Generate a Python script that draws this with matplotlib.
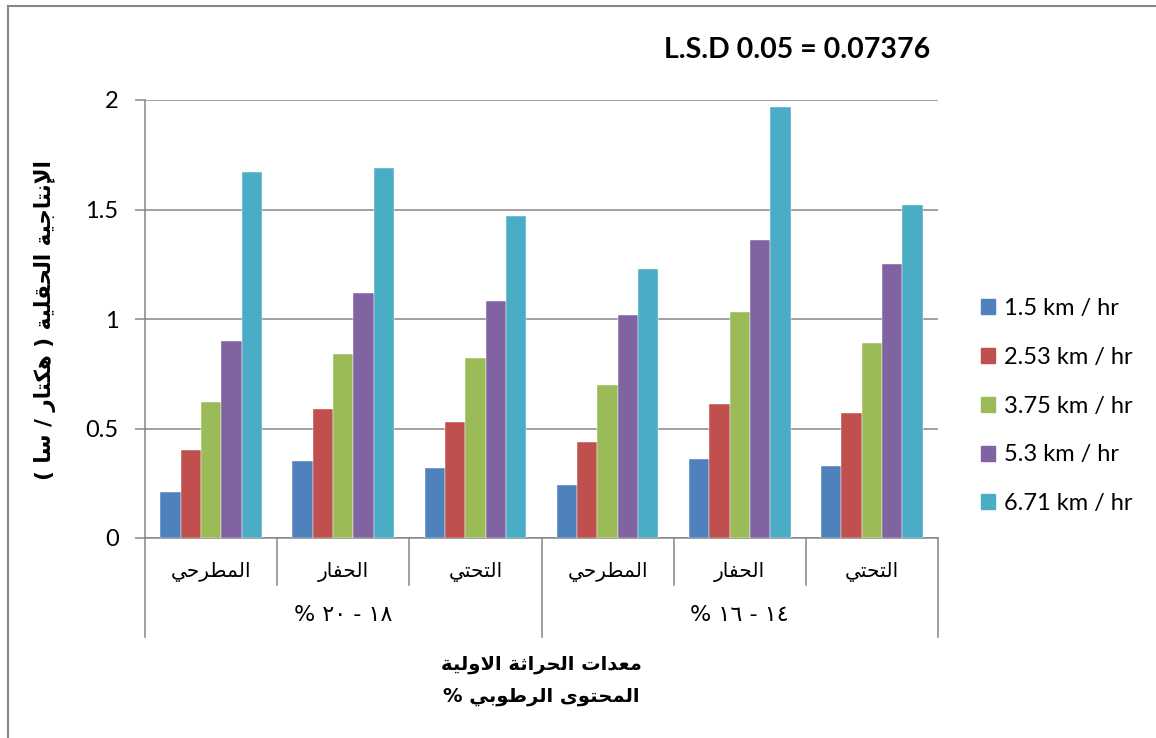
import matplotlib
matplotlib.use("Agg")
import matplotlib.pyplot as plt
from matplotlib.patches import Patch
from matplotlib.lines import Line2D

# data
groups = ["المطرحي", "الحفار", "التحتي", "المطرحي", "الحفار", "التحتي"]
moisture = ["١٨ - ٢٠ %", "١٤ - ١٦ %"]
speeds = ["1.5 km / hr", "2.53 km / hr", "3.75 km / hr", "5.3 km / hr", "6.71 km / hr"]
s_15 = [0.21, 0.35, 0.32, 0.24, 0.36, 0.33]
s_253 = [0.40, 0.59, 0.53, 0.44, 0.61, 0.57]
s_375 = [0.62, 0.84, 0.82, 0.70, 1.03, 0.89]
s_53 = [0.90, 1.12, 1.08, 1.02, 1.36, 1.25]
s_671 = [1.67, 1.69, 1.47, 1.23, 1.97, 1.52]
series = [s_15, s_253, s_375, s_53, s_671]
colors = ["#4F81BD", "#C0504D", "#9BBB59", "#8064A2", "#4BACC6"]
yticks = [0, 0.5, 1, 1.5, 2]
ytick_labels = ["0", "0.5", "1", "1.5", "2"]

title = "L.S.D 0.05 = 0.07376"
ylabel = "الإنتاجية الحقلية ( هكتار / سا )"
xlabel1 = "معدات الحراثة الاولية"
xlabel2 = "المحتوى الرطوبي %"

# matplotlib has no arabic shaping, so pick contextual forms by hand
# (isolated, final, initial, medial)
FORMS = {
    "ا": (0xFE8D, 0xFE8E, None, None), "أ": (0xFE83, 0xFE84, None, None),
    "إ": (0xFE87, 0xFE88, None, None), "ب": (0xFE8F, 0xFE90, 0xFE91, 0xFE92),
    "ة": (0xFE93, 0xFE94, None, None), "ت": (0xFE95, 0xFE96, 0xFE97, 0xFE98),
    "ث": (0xFE99, 0xFE9A, 0xFE9B, 0xFE9C), "ج": (0xFE9D, 0xFE9E, 0xFE9F, 0xFEA0),
    "ح": (0xFEA1, 0xFEA2, 0xFEA3, 0xFEA4), "د": (0xFEA9, 0xFEAA, None, None),
    "ر": (0xFEAD, 0xFEAE, None, None), "س": (0xFEB1, 0xFEB2, 0xFEB3, 0xFEB4),
    "ط": (0xFEC1, 0xFEC2, 0xFEC3, 0xFEC4), "ع": (0xFEC9, 0xFECA, 0xFECB, 0xFECC),
    "ف": (0xFED1, 0xFED2, 0xFED3, 0xFED4), "ق": (0xFED5, 0xFED6, 0xFED7, 0xFED8),
    "ك": (0xFED9, 0xFEDA, 0xFEDB, 0xFEDC), "ل": (0xFEDD, 0xFEDE, 0xFEDF, 0xFEE0),
    "م": (0xFEE1, 0xFEE2, 0xFEE3, 0xFEE4), "ن": (0xFEE5, 0xFEE6, 0xFEE7, 0xFEE8),
    "ه": (0xFEE9, 0xFEEA, 0xFEEB, 0xFEEC), "و": (0xFEED, 0xFEEE, None, None),
    "ى": (0xFEEF, 0xFEF0, None, None), "ي": (0xFEF1, 0xFEF2, 0xFEF3, 0xFEF4),
}
LAM_ALEF = {"ا": (0xFEFB, 0xFEFC, None, None), "أ": (0xFEF7, 0xFEF8, None, None),
            "إ": (0xFEF9, 0xFEFA, None, None)}
MIRROR = {"(": ")", ")": "("}


def shape(text):
    toks = []
    i = 0
    while i < len(text):
        c = text[i]
        if c == "ل" and i + 1 < len(text) and text[i + 1] in LAM_ALEF:
            toks.append(LAM_ALEF[text[i + 1]])
            i += 2
            continue
        toks.append(FORMS.get(c, c))
        i += 1
    out = []
    for k, t in enumerate(toks):
        if isinstance(t, str):
            out.append(t)
            continue
        prev = toks[k - 1] if k > 0 else None
        nxt = toks[k + 1] if k + 1 < len(toks) else None
        jp = isinstance(prev, tuple) and prev[2] is not None
        jn = isinstance(nxt, tuple) and t[2] is not None
        if jp and jn:
            code = t[3]
        elif jp:
            code = t[1]
        elif jn:
            code = t[2]
        else:
            code = t[0]
        out.append(chr(code))
    # visual order: reverse, keep digit runs left to right
    runs = []
    for ch in out:
        if ch.isdigit() and runs and runs[-1][0].isdigit():
            runs[-1] += ch
        else:
            runs.append(ch)
    return "".join(MIRROR.get(r, r) for r in reversed(runs))


AR = ["DejaVu Sans"]
LAT = ["Lato", "DejaVu Sans"]
GRAY = "#868686"

fig = plt.figure(figsize=(11.56, 7.38), dpi=100)
W, H = 1156, 738
ax = fig.add_axes([145 / W, 1 - 538 / H, (938 - 145) / W, (538 - 100) / H])

x = list(range(len(groups)))
bw = 0.154
for j, (vals, col) in enumerate(zip(series, colors)):
    ax.bar([xi + (j - 2) * bw for xi in x], vals, width=bw, color=col,
           edgecolor="white", linewidth=0.3, label=speeds[j], zorder=3)

ax.set_xlim(-0.5, len(groups) - 0.5)
ax.set_ylim(0, 2)
ax.set_yticks(yticks)
ax.set_yticklabels(ytick_labels, family=LAT, fontsize=17)
ax.yaxis.grid(True, color=GRAY, linewidth=1.1, zorder=0)
ax.tick_params(axis="y", length=7, color=GRAY, width=1.1, pad=12)
ax.tick_params(axis="x", length=0, labelbottom=False)
for s in ["top", "right"]:
    ax.spines[s].set_visible(False)
ax.spines["left"].set_color(GRAY)
ax.spines["bottom"].set_color(GRAY)
ax.spines["left"].set_linewidth(1.1)
ax.spines["bottom"].set_linewidth(1.1)

# two-level category axis
tr = ax.get_xaxis_transform()
for xi, g in zip(x, groups):
    ax.text(xi, -0.078, shape(g), transform=tr, ha="center", va="center",
            family=AR, fontsize=14.5)
for b in [0.5, 1.5, 3.5, 4.5]:
    ax.plot([b, b], [0, -0.107], transform=tr, color=GRAY, lw=1.1, clip_on=False)
for b in [-0.5, 2.5, 5.5]:
    ax.plot([b, b], [0, -0.226], transform=tr, color=GRAY, lw=1.1, clip_on=False)
for k, m in enumerate(moisture):
    ax.text(1 + 3 * k, -0.176, shape(m), transform=tr, ha="center", va="center",
            family=AR, fontsize=16)

fig.text(541 / W, 1 - 665 / H, shape(xlabel1), ha="center", va="center",
         family=AR, fontsize=14, fontweight="bold")
fig.text(541 / W, 1 - 697 / H, shape(xlabel2), ha="center", va="center",
         family=AR, fontsize=14, fontweight="bold")
fig.text(45 / W, 1 - 320 / H, shape(ylabel), ha="center", va="center",
         rotation=90, family=AR, fontsize=15.5, fontweight="bold")
fig.text(930 / W, 1 - 50 / H, title, ha="right", va="center",
         family=LAT, fontsize=20.5, fontweight="bold")

handles = [Patch(color=c, label=l) for c, l in zip(colors, speeds)]
fig.legend(handles=handles, loc="center left", bbox_to_anchor=(960 / W, 1 - 406 / H),
           frameon=False, prop={"family": LAT, "size": 17}, handlelength=0.6,
           handleheight=0.6, handletextpad=0.35, labelspacing=1.18)

# chart area border (only left and top edges are visible in the crop)
fig.add_artist(Line2D([8 / W, 8 / W], [0, 1 - 6 / H], transform=fig.transFigure,
                      color=GRAY, lw=1.5))
fig.add_artist(Line2D([8 / W, 1], [1 - 6 / H, 1 - 6 / H], transform=fig.transFigure,
                      color=GRAY, lw=1.5))

fig.savefig("out.png", dpi=100)
